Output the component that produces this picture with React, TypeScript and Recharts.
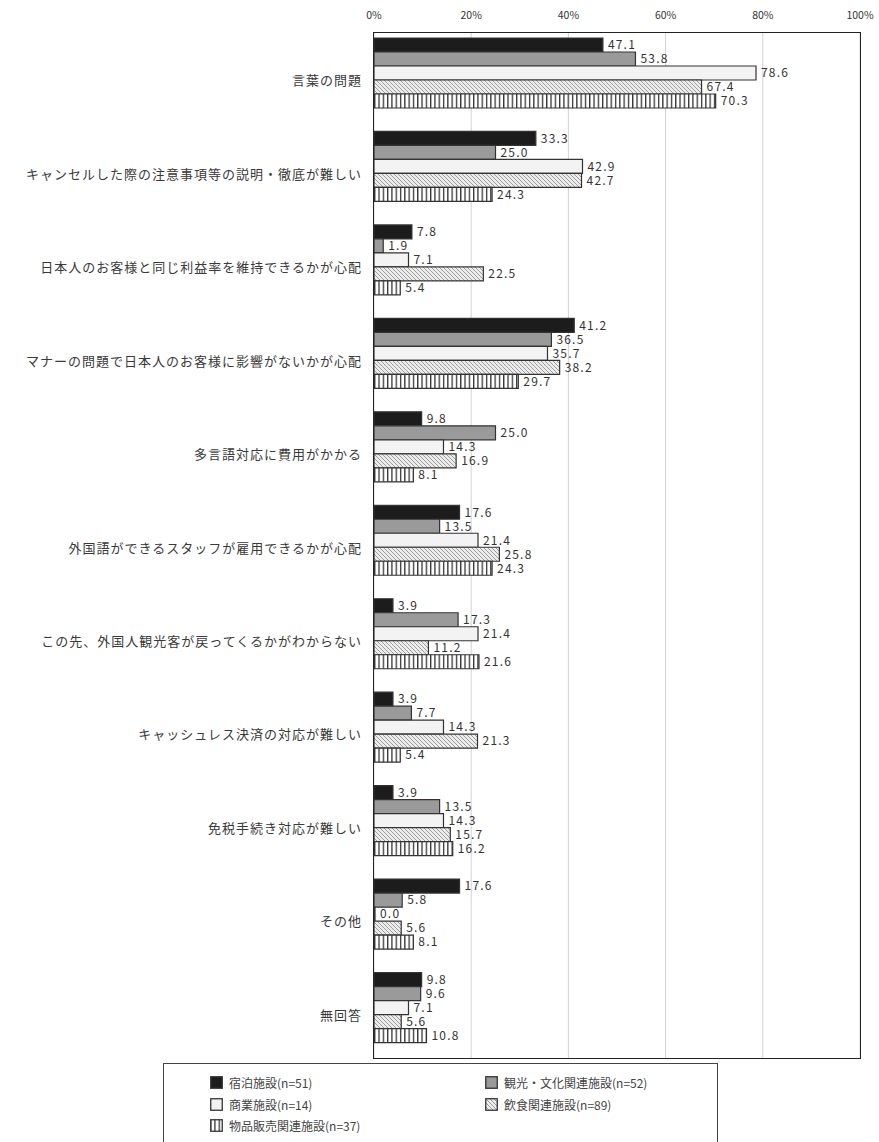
import React from "react";
import { BarChart, Bar, XAxis, YAxis, CartesianGrid, LabelList } from "recharts";

const categories = [
  "言葉の問題",
  "キャンセルした際の注意事項等の説明・徹底が難しい",
  "日本人のお客様と同じ利益率を維持できるかが心配",
  "マナーの問題で日本人のお客様に影響がないかが心配",
  "多言語対応に費用がかかる",
  "外国語ができるスタッフが雇用できるかが心配",
  "この先、外国人観光客が戻ってくるかがわからない",
  "キャッシュレス決済の対応が難しい",
  "免税手続き対応が難しい",
  "その他",
  "無回答",
];

const seriesNames = [
  "宿泊施設(n=51)",
  "観光・文化関連施設(n=52)",
  "商業施設(n=14)",
  "飲食関連施設(n=89)",
  "物品販売関連施設(n=37)",
];

const shukuhaku = [47.1, 33.3, 7.8, 41.2, 9.8, 17.6, 3.9, 3.9, 3.9, 17.6, 9.8];
const kanko = [53.8, 25.0, 1.9, 36.5, 25.0, 13.5, 17.3, 7.7, 13.5, 5.8, 9.6];
const shogyo = [78.6, 42.9, 7.1, 35.7, 14.3, 21.4, 21.4, 14.3, 14.3, 0.0, 7.1];
const inshoku = [67.4, 42.7, 22.5, 38.2, 16.9, 25.8, 11.2, 21.3, 15.7, 5.6, 5.6];
const buppin = [70.3, 24.3, 5.4, 29.7, 8.1, 24.3, 21.6, 5.4, 16.2, 8.1, 10.8];

const xTicks = [0, 20, 40, 60, 80, 100];

const seriesValues = [shukuhaku, kanko, shogyo, inshoku, buppin];
const seriesKeys = ["s0", "s1", "s2", "s3", "s4"];
const seriesFills = ["#1c1c1c", "#9a9a9a", "#f3f3f3", "url(#hatch)", "url(#vstripe)"];

const data = categories.map((c, i) => {
  const row: any = { name: c };
  seriesKeys.forEach((k, j) => {
    row[k] = seriesValues[j][i];
  });
  return row;
});

const FONT = '"Noto Sans CJK JP", "Noto Sans", sans-serif';

const CatTick = (props: any) => {
  const { x, y, payload } = props;
  return (
    <text
      x={x}
      y={y}
      dy={7}
      textAnchor="end"
      dominantBaseline="central"
      fontSize={13}
      letterSpacing={1}
      fill="#3a3a3a"
      fontFamily={FONT}
    >
      {payload.value}
    </text>
  );
};

const Swatch = ({ fill }: { fill: string }) => (
  <svg width={13} height={13} style={{ display: "block" }}>
    <rect x={0.75} y={0.75} width={11.5} height={11.5} fill={fill} stroke="#333" strokeWidth={1.3} />
  </svg>
);

export default function App() {
  return (
    <div style={{ position: "absolute", left: 0, top: 0, width: 879, height: 1142, overflow: "hidden", background: "#fff", fontFamily: FONT }}>
      <svg width={0} height={0} style={{ position: "absolute" }}>
        <defs>
          <pattern id="hatch" patternUnits="userSpaceOnUse" width={4} height={4}>
            <rect x={0} y={0} width={4} height={4} fill="#ececec" />
            <path d="M-1,-1 L5,5 M-1,3 L1,5 M3,-1 L5,1" stroke="#8a8a8a" strokeWidth={0.8} />
          </pattern>
          <pattern id="vstripe" patternUnits="userSpaceOnUse" width={4.3} height={4}>
            <rect x={0} y={0} width={4.3} height={4} fill="#ffffff" />
            <rect x={0} y={0} width={1.3} height={4} fill="#333" />
          </pattern>
        </defs>
      </svg>
      <BarChart
        width={879}
        height={1062}
        data={data}
        layout="vertical"
        margin={{ top: 5, right: 19, bottom: 4, left: 0 }}
        barGap={0}
      >
        <CartesianGrid horizontal={false} vertical={true} stroke="#d2d2d2" strokeWidth={1} />
        <XAxis
          type="number"
          orientation="top"
          domain={[0, 100]}
          ticks={xTicks}
          tickFormatter={(v: number) => `${v}%`}
          height={28}
          tickSize={0}
          tickMargin={14}
          axisLine={false}
          tickLine={false}
          tick={{ fontSize: 10.5, fill: "#333", fontFamily: FONT }}
          interval={0}
        />
        <YAxis
          type="category"
          dataKey="name"
          width={374}
          tickSize={0}
          tickMargin={12}
          tickLine={false}
          axisLine={false}
          tick={<CatTick />}
          interval={0}
          padding={{ top: -7, bottom: 4 }}
        />
        {seriesKeys.map((k, j) => (
          <Bar
            key={k}
            dataKey={k}
            name={seriesNames[j]}
            fill={seriesFills[j]}
            stroke="#333"
            strokeWidth={1.2}
            barSize={14}
            minPointSize={1}
            isAnimationActive={false}
          >
            <LabelList
              dataKey={k}
              position="right"
              offset={5}
              fontSize={12}
              letterSpacing={1.2}
              fill="#333"
              fontFamily={FONT}
              formatter={(v: any) => Number(v).toFixed(1)}
            />
          </Bar>
        ))}
      </BarChart>
      <div
        style={{
          position: "absolute",
          left: 373,
          top: 32,
          width: 488,
          height: 1027,
          border: "1.4px solid #222",
          boxSizing: "border-box",
          pointerEvents: "none",
        }}
      />
      <div
        style={{
          position: "absolute",
          left: 163,
          top: 1063,
          width: 555,
          height: 120,
          border: "1.5px solid #444",
          boxSizing: "border-box",
        }}
      >
        {seriesNames.map((n, j) => {
          const col = j % 2;
          const row = Math.floor(j / 2);
          return (
            <div
              key={n}
              style={{
                position: "absolute",
                left: col === 0 ? 46 : 321,
                top: 10 + row * 21.5,
                display: "flex",
                alignItems: "center",
                gap: 6,
                fontSize: 12,
                color: "#444",
                whiteSpace: "nowrap",
              }}
            >
              <Swatch fill={seriesFills[j]} />
              <span>{n}</span>
            </div>
          );
        })}
      </div>
    </div>
  );
}
